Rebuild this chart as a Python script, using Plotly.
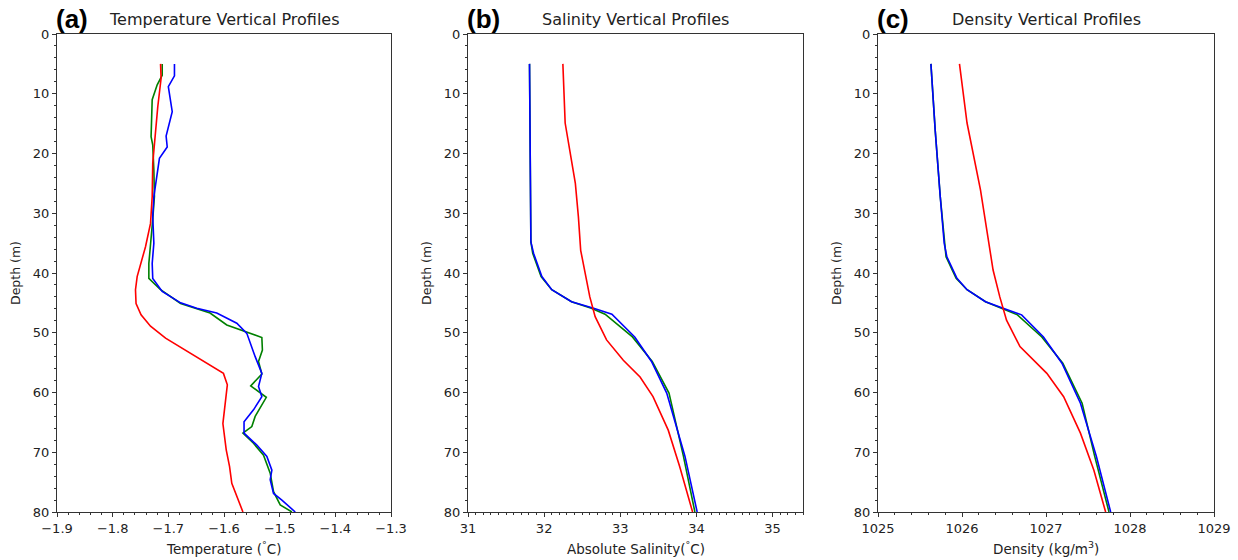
import plotly.graph_objects as go

# ---------------- data ----------------
# (a) Temperature
temp_green_depth = [5, 6.9, 8.5, 11.0, 17.2, 18.6, 22.8, 27.2, 31, 34.8, 38.4, 40.9, 42.8, 45.1, 46.7, 48.7, 49.5, 50.8, 52.9, 54.8, 56.9, 58.9, 60.8, 64.0, 65.7, 66.8, 68.5, 70.5, 73.5, 76.6, 78.8, 80]
temp_green = [-1.711, -1.711, -1.720, -1.729, -1.731, -1.728, -1.726, -1.725, -1.728, -1.731, -1.735, -1.735, -1.714, -1.678, -1.625, -1.595, -1.571, -1.532, -1.531, -1.538, -1.532, -1.552, -1.524, -1.544, -1.550, -1.566, -1.547, -1.529, -1.517, -1.511, -1.499, -1.478]

temp_blue_depth = [5, 7.0, 8.8, 13.0, 17.1, 18.9, 20.8, 24.2, 27.2, 30.6, 35.0, 38.4, 40.9, 43.1, 45.0, 45.9, 46.7, 48.4, 50.1, 54.0, 56.8, 59.0, 60.7, 62.9, 64.9, 66.8, 68.8, 70.7, 73.0, 74.6, 76.9, 78.0, 80]
temp_blue = [-1.689, -1.689, -1.700, -1.693, -1.704, -1.702, -1.716, -1.722, -1.726, -1.728, -1.726, -1.729, -1.728, -1.711, -1.678, -1.649, -1.613, -1.577, -1.559, -1.544, -1.532, -1.538, -1.532, -1.547, -1.564, -1.564, -1.541, -1.523, -1.514, -1.517, -1.511, -1.496, -1.472]

temp_red_depth = [5, 7.4, 12.2, 16.1, 21.6, 27.2, 31.7, 35.6, 38.9, 40.6, 42.8, 45.1, 47.0, 48.9, 50.9, 53.4, 56.8, 58.7, 61.8, 65.2, 69.6, 72.4, 75.2, 77.4, 80]
temp_red = [-1.714, -1.713, -1.719, -1.723, -1.728, -1.729, -1.732, -1.741, -1.750, -1.756, -1.759, -1.758, -1.749, -1.732, -1.705, -1.661, -1.601, -1.594, -1.598, -1.602, -1.596, -1.590, -1.586, -1.577, -1.566]

# (b) Salinity
sal_blue_depth = [5, 30.6, 34.8, 36.7, 40.6, 42.8, 44.8, 45.9, 46.9, 50.7, 54.8, 60.1, 70.7, 80]
sal_blue = [31.808, 31.826, 31.826, 31.861, 31.97, 32.10, 32.36, 32.65, 32.89, 33.19, 33.41, 33.61, 33.85, 34.01]
sal_green_depth = [5, 30.6, 34.8, 36.7, 40.6, 42.8, 44.8, 45.9, 46.9, 50.7, 54.8, 60.1, 70.7, 80]
sal_green = [31.808, 31.826, 31.826, 31.85, 31.96, 32.10, 32.36, 32.62, 32.80, 33.16, 33.42, 33.64, 33.83, 33.98]
sal_red_depth = [5, 14.9, 25.0, 30.6, 36.2, 40.1, 44.0, 47.3, 51.2, 54.6, 57.4, 60.7, 66.3, 72.4, 80]
sal_red = [32.246, 32.276, 32.41, 32.45, 32.48, 32.54, 32.60, 32.67, 32.82, 33.04, 33.26, 33.43, 33.63, 33.78, 33.95]

# (c) Density
den_blue_depth = [5, 16.1, 27.2, 35.0, 37.3, 40.9, 42.8, 44.8, 45.9, 47.0, 50.7, 55.1, 61.8, 70.7, 80]
den_blue = [1025.63, 1025.681, 1025.741, 1025.788, 1025.82, 1025.94, 1026.06, 1026.28, 1026.49, 1026.71, 1026.97, 1027.19, 1027.41, 1027.60, 1027.77]
den_green_depth = [5, 16.1, 27.2, 35.0, 37.3, 40.9, 42.8, 44.8, 45.9, 47.0, 50.7, 55.1, 61.8, 70.7, 80]
den_green = [1025.63, 1025.681, 1025.741, 1025.788, 1025.81, 1025.93, 1026.06, 1026.28, 1026.46, 1026.66, 1026.95, 1027.20, 1027.43, 1027.58, 1027.75]
den_red_depth = [5, 14.9, 26.1, 35.0, 39.5, 44.0, 47.9, 52.3, 56.8, 60.7, 66.8, 73.0, 80]
den_red = [1025.97, 1026.06, 1026.22, 1026.32, 1026.37, 1026.45, 1026.53, 1026.69, 1027.01, 1027.21, 1027.41, 1027.57, 1027.71]

panel_titles = ["Temperature Vertical Profiles", "Salinity Vertical Profiles", "Density Vertical Profiles"]
panel_letters = ["(a)", "(b)", "(c)"]
x_titles = ["Temperature (<sup>°</sup>C)", "Absolute Salinity(<sup>°</sup>C)", "Density (kg/m<sup>3</sup>)"]
y_title = "Depth (m)"

# ---------------- layout geometry ----------------
W, H = 1238, 560
px_left = [57, 468, 878]
px_right = [391, 803, 1214]
py_top, py_bot = 34, 512

x_ranges = [[-1.9, -1.3], [31, 35.4], [1025, 1029]]
x_dticks = [0.1, 1, 1]
x_minor = [0.02, 0.1, 0.2]

GREEN, BLUE, RED = "#008000", "#0000FF", "#FF0000"
FONT = "DejaVu Sans"
AXC = "#333333"

fig = go.Figure()

series = [
    [(temp_green_depth, temp_green, GREEN), (temp_blue_depth, temp_blue, BLUE), (temp_red_depth, temp_red, RED)],
    [(sal_green_depth, sal_green, GREEN), (sal_blue_depth, sal_blue, BLUE), (sal_red_depth, sal_red, RED)],
    [(den_green_depth, den_green, GREEN), (den_blue_depth, den_blue, BLUE), (den_red_depth, den_red, RED)],
]

annotations = []
for i in range(3):
    xa = "x" if i == 0 else f"x{i+1}"
    ya = "y" if i == 0 else f"y{i+1}"
    for d, v, c in series[i]:
        fig.add_trace(go.Scatter(x=v, y=d, mode="lines", line=dict(color=c, width=1.6),
                                 xaxis=xa, yaxis=ya, showlegend=False, hoverinfo="skip"))
    xkey = "xaxis" if i == 0 else f"xaxis{i+1}"
    ykey = "yaxis" if i == 0 else f"yaxis{i+1}"
    fig.layout[xkey] = dict(
        domain=[px_left[i] / W, px_right[i] / W], anchor=ya, range=x_ranges[i], automargin=False,
        dtick=x_dticks[i], tick0=x_ranges[i][0], ticks="outside", ticklen=4, tickcolor=AXC,
        showline=True, mirror=True, linecolor=AXC, linewidth=1, showgrid=False, zeroline=False,
        tickfont=dict(family=FONT, size=13, color="#222"),
        minor=dict(dtick=x_minor[i], ticks="outside", ticklen=2, tickcolor=AXC, showgrid=False),
    )
    fig.layout[ykey] = dict(
        domain=[1 - py_bot / H, 1 - py_top / H], anchor=xa, range=[80, 0], automargin=False,
        dtick=10, tick0=0, ticks="outside", ticklen=4, tickcolor=AXC,
        showline=True, mirror=True, linecolor=AXC, linewidth=1, showgrid=False, zeroline=False,
        tickfont=dict(family=FONT, size=13, color="#222"),
        minor=dict(dtick=2, ticks="outside", ticklen=2, tickcolor=AXC, showgrid=False),
    )
    cx = (px_left[i] + px_right[i]) / 2 / W
    annotations.append(dict(text=panel_titles[i], x=cx, y=1 - 20 / H, xref="paper", yref="paper",
                            xanchor="center", yanchor="middle", showarrow=False,
                            font=dict(family=FONT, size=16, color="#222")))
    annotations.append(dict(text="<b>" + panel_letters[i] + "</b>", x=(px_left[i] - 3) / W, y=1 - 19 / H,
                            xref="paper", yref="paper", xanchor="left", yanchor="middle", showarrow=False,
                            font=dict(family="Liberation Sans", size=26, color="#000")))
    annotations.append(dict(text=x_titles[i], x=cx, y=1 - 548 / H, xref="paper", yref="paper",
                            xanchor="center", yanchor="middle", showarrow=False,
                            font=dict(family=FONT, size=13.5, color="#222")))
    annotations.append(dict(text=y_title, x=(px_left[i] - 42) / W, y=1 - (py_top + py_bot) / 2 / H,
                            xref="paper", yref="paper", xanchor="center", yanchor="middle", showarrow=False,
                            textangle=-90, font=dict(family=FONT, size=12.5, color="#222")))

fig.update_layout(width=W, height=H, margin=dict(l=0, r=0, t=0, b=0),
                  paper_bgcolor="white", plot_bgcolor="white", annotations=annotations)

fig.write_html("out.html", config={"displayModeBar": False},
               post_script="document.body.style.margin='0';document.body.style.overflow='hidden';")
